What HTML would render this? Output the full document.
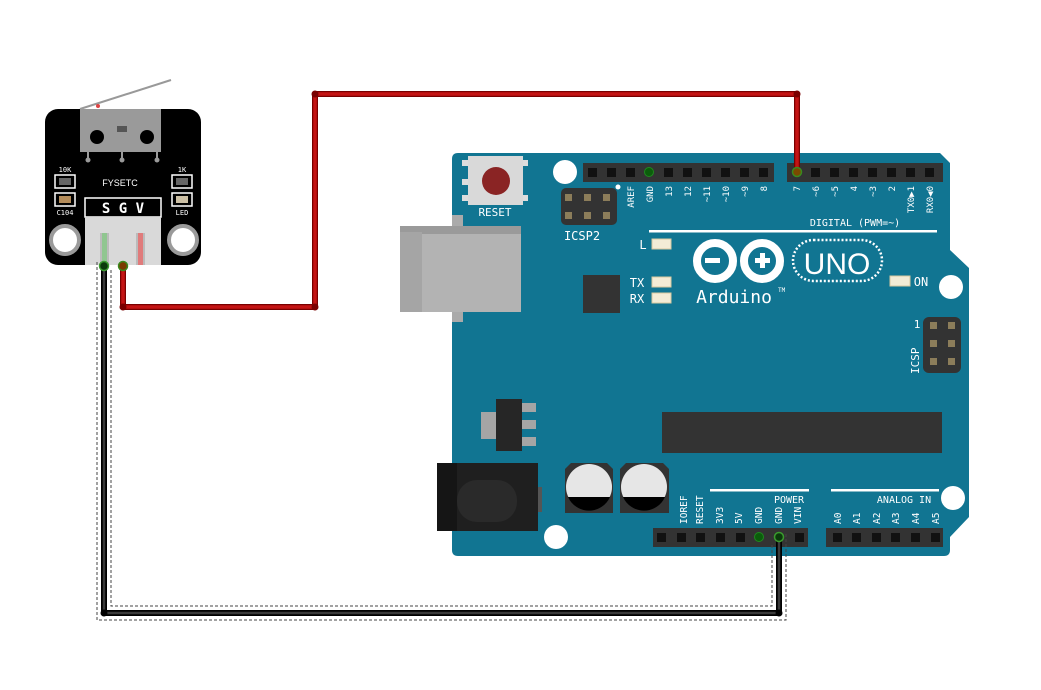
<!DOCTYPE html>
<html><head><meta charset="utf-8"><style>
html,body{margin:0;padding:0;background:#fff;width:1041px;height:690px;overflow:hidden}
svg{display:block}
text{font-family:"DejaVu Sans Mono","Liberation Mono",monospace;fill:#fff}
</style></head><body>
<svg width="1041" height="690" viewBox="0 0 1041 690" xmlns="http://www.w3.org/2000/svg">
<path d="M458,153 L940,153 L950,163 L950,250 L969,268 L969,517 L950,537 L950,550 Q950,556 944,556 L458,556 Q452,556 452,550 L452,159 Q452,153 458,153 Z" fill="#117592"/>
<circle cx="565" cy="172" r="12" fill="#fff"/>
<circle cx="556" cy="537" r="12" fill="#fff"/>
<circle cx="953" cy="498" r="12" fill="#fff"/>
<circle cx="951" cy="287" r="12" fill="#fff"/>
<rect x="462" y="160" width="8" height="6" fill="#ddd"/><rect x="462" y="179" width="8" height="6" fill="#ddd"/><rect x="462" y="195" width="8" height="6" fill="#ddd"/>
<rect x="520" y="160" width="8" height="6" fill="#ddd"/><rect x="520" y="195" width="8" height="6" fill="#ddd"/>
<rect x="468" y="156" width="55" height="49" fill="#d9d9d9"/>
<circle cx="496" cy="181" r="14" fill="#8a2424"/>
<text x="495" y="216" font-size="11" text-anchor="middle">RESET</text>
<rect x="561" y="188" width="56" height="37" rx="5" fill="#333"/>
<g fill="#8c7d5a"><rect x="565" y="194" width="7" height="7"/><rect x="584" y="194" width="7" height="7"/><rect x="603" y="194" width="7" height="7"/><rect x="565" y="212" width="7" height="7"/><rect x="584" y="212" width="7" height="7"/><rect x="603" y="212" width="7" height="7"/></g>
<circle cx="618" cy="187" r="2.5" fill="#fff"/>
<text x="582" y="240" font-size="12" text-anchor="middle">ICSP2</text>
<rect x="452" y="215" width="11" height="107" fill="#aaa"/>
<rect x="400" y="226" width="121" height="86" fill="#b3b3b3"/>
<rect x="400" y="226" width="121" height="8" fill="#9a9a9a"/>
<rect x="400" y="232" width="22" height="80" fill="#a5a5a5"/>
<rect x="583" y="163" width="191" height="19" fill="#333"/>
<rect x="787" y="163" width="156" height="19" fill="#333"/>
<g fill="#111">
<rect x="588" y="168" width="9" height="9"/><rect x="607" y="168" width="9" height="9"/><rect x="626" y="168" width="9" height="9"/><rect x="664" y="168" width="9" height="9"/><rect x="683" y="168" width="9" height="9"/><rect x="702" y="168" width="9" height="9"/><rect x="721" y="168" width="9" height="9"/><rect x="740" y="168" width="9" height="9"/><rect x="759" y="168" width="9" height="9"/>
<rect x="811" y="168" width="9" height="9"/><rect x="830" y="168" width="9" height="9"/><rect x="849" y="168" width="9" height="9"/><rect x="868" y="168" width="9" height="9"/><rect x="887" y="168" width="9" height="9"/><rect x="906" y="168" width="9" height="9"/><rect x="925" y="168" width="9" height="9"/>
</g>
<circle cx="649" cy="172" r="4.5" fill="#0b5d0b" stroke="#1e8a1e"/>
<g font-size="9">
<text transform="translate(634,186) rotate(-90)" text-anchor="end">AREF</text>
<text transform="translate(653,186) rotate(-90)" text-anchor="end">GND</text>
<text transform="translate(672,186) rotate(-90)" text-anchor="end">13</text>
<text transform="translate(691,186) rotate(-90)" text-anchor="end">12</text>
<text transform="translate(710,186) rotate(-90)" text-anchor="end">~11</text>
<text transform="translate(729,186) rotate(-90)" text-anchor="end">~10</text>
<text transform="translate(748,186) rotate(-90)" text-anchor="end">~9</text>
<text transform="translate(767,186) rotate(-90)" text-anchor="end">8</text>
<text transform="translate(800,186) rotate(-90)" text-anchor="end">7</text>
<text transform="translate(819,186) rotate(-90)" text-anchor="end">~6</text>
<text transform="translate(838,186) rotate(-90)" text-anchor="end">~5</text>
<text transform="translate(857,186) rotate(-90)" text-anchor="end">4</text>
<text transform="translate(876,186) rotate(-90)" text-anchor="end">~3</text>
<text transform="translate(895,186) rotate(-90)" text-anchor="end">2</text>
<text transform="translate(914,186) rotate(-90)" text-anchor="end">TX0▶1</text>
<text transform="translate(933,186) rotate(-90)" text-anchor="end">RX0◀0</text>
</g>
<text x="855" y="226" font-size="10" text-anchor="middle">DIGITAL (PWM=~)</text>
<rect x="649" y="230" width="288" height="2.5" fill="#fff"/>
<g fill="#f3ecd6" stroke="#d8c9a0"><rect x="652" y="239" width="19" height="10"/><rect x="652" y="277" width="19" height="10"/><rect x="652" y="293" width="19" height="10"/><rect x="890" y="276" width="20" height="10"/></g>
<text x="643" y="249" font-size="12" text-anchor="middle">L</text>
<text x="637" y="287" font-size="12" text-anchor="middle">TX</text>
<text x="637" y="303" font-size="12" text-anchor="middle">RX</text>
<text x="921" y="286" font-size="12" text-anchor="middle">ON</text>
<rect x="583" y="275" width="37" height="38" fill="#333"/>
<g fill="none" stroke="#fff" stroke-width="8">
<circle cx="715" cy="261" r="18"/><circle cx="762" cy="261" r="18"/>
</g>
<rect x="705" y="258" width="15" height="5" fill="#fff"/>
<rect x="755" y="258" width="15" height="5" fill="#fff"/><rect x="760" y="253" width="5" height="15" fill="#fff"/>
<rect x="793" y="240" width="89" height="41" rx="20.5" fill="none" stroke="#fff" stroke-width="2.5" stroke-dasharray="2 2"/>
<text x="837" y="274" font-size="30" text-anchor="middle" style="font-family:'Liberation Sans',sans-serif">UNO</text>
<text x="734" y="303" font-size="18" text-anchor="middle">Arduino</text>
<text x="778" y="292" font-size="6">TM</text>
<rect x="923" y="317" width="38" height="56" rx="6" fill="#333"/>
<g fill="#8c7d5a"><rect x="930" y="322" width="7" height="7"/><rect x="948" y="322" width="7" height="7"/><rect x="930" y="340" width="7" height="7"/><rect x="948" y="340" width="7" height="7"/><rect x="930" y="358" width="7" height="7"/><rect x="948" y="358" width="7" height="7"/></g>
<text x="917" y="328" font-size="11" text-anchor="middle">1</text>
<text transform="translate(919,374) rotate(-90)" font-size="11">ICSP</text>
<rect x="481" y="412" width="15" height="27" fill="#a5a5a5"/>
<rect x="522" y="403" width="14" height="9" fill="#a5a5a5"/><rect x="522" y="420" width="14" height="9" fill="#a5a5a5"/><rect x="522" y="437" width="14" height="9" fill="#a5a5a5"/>
<rect x="496" y="399" width="26" height="52" fill="#262626"/>
<rect x="662" y="412" width="280" height="41" fill="#333"/>
<rect x="437" y="463" width="101" height="68" fill="#1f1f1f"/>
<rect x="457" y="480" width="60" height="42" rx="20" fill="#2a2a2a"/>
<rect x="437" y="463" width="20" height="68" fill="#151515"/>
<rect x="538" y="487" width="4" height="25" fill="#555"/>
<g>
<path d="M571,463 L607,463 L613,469 L613,513 L565,513 L565,469 Z" fill="#333"/>
<circle cx="589" cy="487" r="23" fill="#e6e6e6"/>
<path d="M568,497 L610,497 A23,23 0 0 1 568,497 Z" fill="#000"/>
<path d="M626,463 L663,463 L669,469 L669,513 L620,513 L620,469 Z" fill="#333"/>
<circle cx="644" cy="487" r="23" fill="#e6e6e6"/>
<path d="M623,497 L665,497 A23,23 0 0 1 623,497 Z" fill="#000"/>
</g>
<rect x="710" y="489" width="99" height="2.5" fill="#fff"/>
<rect x="831" y="489" width="108" height="2.5" fill="#fff"/>
<text x="789" y="503" font-size="10" text-anchor="middle">POWER</text>
<text x="904" y="503" font-size="10" text-anchor="middle">ANALOG IN</text>
<g font-size="9.5">
<text transform="translate(687,524) rotate(-90)">IOREF</text>
<text transform="translate(703,524) rotate(-90)">RESET</text>
<text transform="translate(723,524) rotate(-90)">3V3</text>
<text transform="translate(742,524) rotate(-90)">5V</text>
<text transform="translate(762,524) rotate(-90)">GND</text>
<text transform="translate(782,524) rotate(-90)">GND</text>
<text transform="translate(801,524) rotate(-90)">VIN</text>
<text transform="translate(841,524) rotate(-90)">A0</text>
<text transform="translate(860,524) rotate(-90)">A1</text>
<text transform="translate(880,524) rotate(-90)">A2</text>
<text transform="translate(899,524) rotate(-90)">A3</text>
<text transform="translate(919,524) rotate(-90)">A4</text>
<text transform="translate(939,524) rotate(-90)">A5</text>
</g>
<rect x="653" y="528" width="155" height="19" fill="#333"/>
<rect x="826" y="528" width="117" height="19" fill="#333"/>
<g fill="#111">
<rect x="657" y="533" width="9" height="9"/><rect x="677" y="533" width="9" height="9"/><rect x="696" y="533" width="9" height="9"/><rect x="716" y="533" width="9" height="9"/><rect x="736" y="533" width="9" height="9"/><rect x="795" y="533" width="9" height="9"/>
<rect x="833" y="533" width="9" height="9"/><rect x="852" y="533" width="9" height="9"/><rect x="872" y="533" width="9" height="9"/><rect x="891" y="533" width="9" height="9"/><rect x="911" y="533" width="9" height="9"/><rect x="931" y="533" width="9" height="9"/>
</g>
<circle cx="759" cy="537" r="4.5" fill="#0b5d0b" stroke="#1e8a1e"/>
<circle cx="779" cy="537" r="4.5" fill="#0b5d0b" stroke="#1e8a1e"/>

<line x1="80" y1="109" x2="171" y2="80" stroke="#999" stroke-width="2"/>
<circle cx="98" cy="106" r="2" fill="#d44"/>
<rect x="45" y="109" width="156" height="156" rx="13" fill="#000"/>
<rect x="80" y="109" width="81" height="43" fill="#9a9a9a"/>
<circle cx="97" cy="137" r="7" fill="#000"/><circle cx="147" cy="137" r="7" fill="#000"/>
<rect x="117" y="126" width="10" height="6" fill="#555"/>
<g stroke="#9a9a9a" stroke-width="2"><line x1="88" y1="152" x2="88" y2="160"/><line x1="122" y1="152" x2="122" y2="160"/><line x1="157" y1="152" x2="157" y2="160"/></g>
<g fill="#9a9a9a"><circle cx="88" cy="160" r="2.5"/><circle cx="122" cy="160" r="2.5"/><circle cx="157" cy="160" r="2.5"/></g>
<text x="120" y="186" font-size="9" text-anchor="middle" style="font-family:'Liberation Sans',sans-serif">FYSETC</text>
<g fill="none" stroke="#fff" stroke-width="1.5">
<rect x="55" y="175" width="20" height="13"/><rect x="55" y="193" width="20" height="13"/>
<rect x="172" y="175" width="20" height="13"/><rect x="172" y="193" width="20" height="13"/>
<rect x="85" y="198" width="76" height="19"/>
</g>
<rect x="59" y="178" width="12" height="7" fill="#666"/><rect x="59" y="196" width="12" height="7" fill="#b48c5a"/>
<rect x="176" y="178" width="12" height="7" fill="#666"/><rect x="176" y="196" width="12" height="7" fill="#ccc0a5"/>
<text x="65" y="172" font-size="7" text-anchor="middle">10K</text>
<text x="65" y="215" font-size="7" text-anchor="middle">C104</text>
<text x="182" y="172" font-size="7" text-anchor="middle">1K</text>
<text x="182" y="215" font-size="7" text-anchor="middle">LED</text>
<text x="123" y="213" font-size="14" text-anchor="middle" font-weight="bold">S G V</text>
<rect x="85" y="217" width="76" height="48" fill="#d9d9d9"/>
<rect x="100" y="233" width="9" height="32" fill="#bbb"/><rect x="136" y="233" width="9" height="32" fill="#bbb"/>
<rect x="102" y="233" width="5" height="32" fill="#7ecb7e" opacity=".7"/>
<rect x="138" y="233" width="5" height="32" fill="#ea6b6b" opacity=".8"/>
<circle cx="65" cy="240" r="14" fill="#fff" stroke="#9a9a9a" stroke-width="4"/>
<circle cx="183" cy="240" r="14" fill="#fff" stroke="#9a9a9a" stroke-width="4"/>

<polyline points="123,266 123,307 315,307 315,94 797,94 797,172" fill="none" stroke="#7a0000" stroke-width="6" stroke-linejoin="round"/>
<polyline points="123,266 123,307 315,307 315,94 797,94 797,172" fill="none" stroke="#c41414" stroke-width="3.5" stroke-linejoin="round"/>
<g fill="#7a0000"><circle cx="123" cy="307" r="3.5"/><circle cx="315" cy="307" r="3.5"/><circle cx="315" cy="94" r="3.5"/><circle cx="797" cy="94" r="3.5"/></g>
<circle cx="797" cy="172" r="4.5" fill="#7a4a00" stroke="#3a8a1e" stroke-width="1.5"/>
<circle cx="123" cy="266" r="4.5" fill="#7a3a00" stroke="#3a8a1e" stroke-width="1.5"/>
<polyline points="97,262 97,620 786,620 786,533" fill="none" stroke="#444" stroke-width="1" stroke-dasharray="3 2"/>
<polyline points="111,270 111,606 772,606 772,545" fill="none" stroke="#444" stroke-width="1" stroke-dasharray="3 2"/>
<polyline points="104,266 104,613 779,613 779,537" fill="none" stroke="#000" stroke-width="6" stroke-linejoin="round"/>
<polyline points="104,266 104,613 779,613 779,537" fill="none" stroke="#3a3a3a" stroke-width="2.5" stroke-linejoin="round"/>
<circle cx="104" cy="613" r="3.5" fill="#000"/><circle cx="779" cy="613" r="3.5" fill="#000"/>
<circle cx="104" cy="266" r="4.5" fill="#0b3a0b" stroke="#3a9a2e" stroke-width="1.5"/>
<circle cx="779" cy="537" r="4.5" fill="#0b3a0b" stroke="#3a9a2e" stroke-width="1.5"/>
</svg>
</body></html>
